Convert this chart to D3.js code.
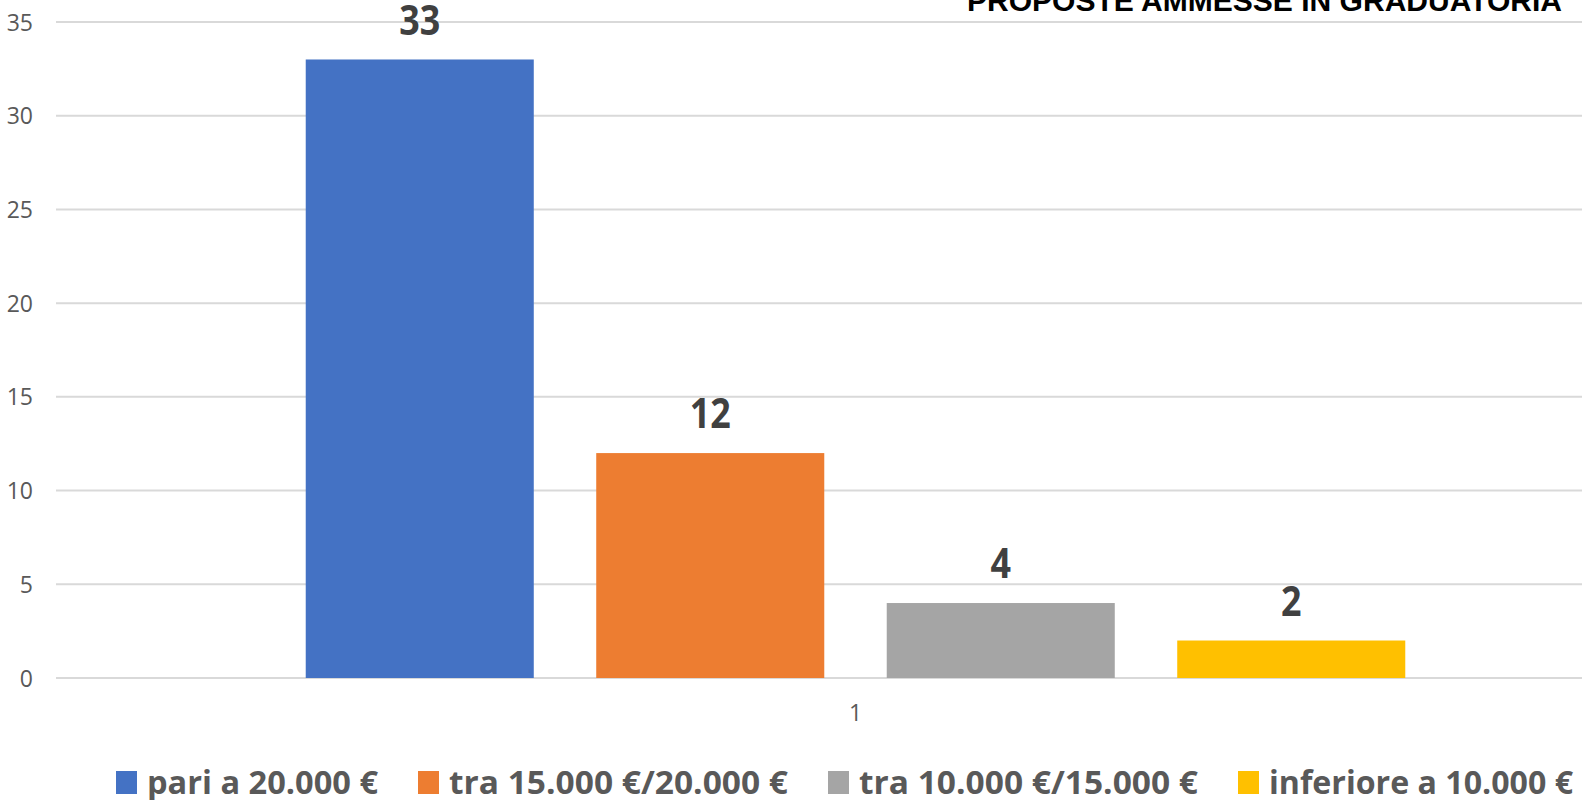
<!DOCTYPE html>
<html>
<head>
<meta charset="utf-8">
<script src="https://cdn.jsdelivr.net/npm/d3@7"></script>
<style>
  html, body { margin: 0; padding: 0; background: #fff; }
  svg { display: block; }
</style>
</head>
<body>
<svg id="chart" width="1582" height="800"></svg>
<script>
// ---- data ----
const title = "PROPOSTE AMMESSE IN GRADUATORIA";
const categories = ["1"];
const seriesNames = ["pari a 20.000 €", "tra 15.000 €/20.000 €", "tra 10.000 €/15.000 €", "inferiore a 10.000 €"];
const seriesValues = [33, 12, 4, 2];
const seriesColors = ["#4472C4", "#ED7D31", "#A5A5A5", "#FFC000"];
const yTicks = [0, 5, 10, 15, 20, 25, 30, 35];

// ---- layout ----
const W = 1582, H = 800;
const plot = { left: 56, right: 1655, top: 22, bottom: 678 };
const legendTextWidths = [231, 339, 339, 304];

const svg = d3.select("#chart");

const y = d3.scaleLinear().domain([0, 35]).range([plot.bottom, plot.top]);
const x0 = d3.scaleBand().domain(categories).range([plot.left, plot.right]);
const groupCenter = x0(categories[0]) + x0.bandwidth() / 2;
const step = 290.5;
const x1 = d3.scaleBand().domain(seriesNames)
  .range([groupCenter - 2 * step + 0.215 * step / 2, groupCenter + 2 * step - 0.215 * step / 2])
  .paddingInner(0.215).paddingOuter(0);

// gridlines
svg.append("g").selectAll("line").data(yTicks).join("line")
  .attr("x1", plot.left).attr("x2", W)
  .attr("y1", d => y(d)).attr("y2", d => y(d))
  .attr("stroke", "#d9d9d9").attr("stroke-width", 2);

// y axis labels
const yAxis = d3.axisLeft(y).tickValues(yTicks).tickSize(0).tickPadding(0);
const gy = svg.append("g").attr("transform", "translate(33,0)").call(yAxis);
gy.select(".domain").remove();
gy.selectAll("text")
  .attr("font-family", "'Open Sans', sans-serif").attr("font-size", 23)
  .attr("fill", "#595959").attr("dy", "0.35em");

// x axis label
const xAxis = d3.axisBottom(x0).tickSize(0).tickPadding(0);
const gx = svg.append("g").attr("transform", "translate(0,705)").call(xAxis);
gx.select(".domain").remove();
gx.selectAll("text")
  .attr("font-family", "'Open Sans', sans-serif").attr("font-size", 23)
  .attr("fill", "#595959").attr("dy", "0.71em");

// bars
const data = seriesNames.map((s, i) => ({ name: s, value: seriesValues[i], color: seriesColors[i] }));
svg.append("g").selectAll("rect").data(data).join("rect")
  .attr("x", d => x1(d.name))
  .attr("width", x1.bandwidth())
  .attr("y", d => y(d.value))
  .attr("height", d => y(0) - y(d.value))
  .attr("fill", d => d.color);

// value labels
svg.append("g").selectAll("text").data(data).join("text")
  .attr("x", d => x1(d.name) + x1.bandwidth() / 2)
  .attr("y", d => y(d.value) - 25)
  .attr("text-anchor", "middle")
  .attr("font-family", "'Open Sans', sans-serif").attr("font-weight", "bold")
  .attr("font-size", 42).attr("fill", "#404040")
  .attr("textLength", d => String(d.value).length * 20.5)
  .attr("lengthAdjust", "spacingAndGlyphs")
  .text(d => d.value);

// title (clipped at the top)
svg.append("text")
  .attr("x", 1562).attr("y", 11)
  .attr("text-anchor", "end")
  .attr("font-family", "'Liberation Sans', Arial, sans-serif").attr("font-weight", "bold")
  .attr("font-size", 30).attr("fill", "#000")
  .attr("textLength", 595).attr("lengthAdjust", "spacingAndGlyphs")
  .text(title);

// legend
const legend = svg.append("g");
let lx = 116;
data.forEach((d, i) => {
  legend.append("rect").attr("x", lx).attr("y", 771).attr("width", 21).attr("height", 23).attr("fill", d.color);
  legend.append("text")
    .attr("x", lx + 31).attr("y", 794)
    .attr("font-family", "'Open Sans', sans-serif").attr("font-weight", "bold")
    .attr("font-size", 32).attr("fill", "#595959")
    .attr("textLength", legendTextWidths[i]).attr("lengthAdjust", "spacingAndGlyphs")
    .text(d.name);
  lx += 31 + legendTextWidths[i] + 40;
});
</script>
</body>
</html>
